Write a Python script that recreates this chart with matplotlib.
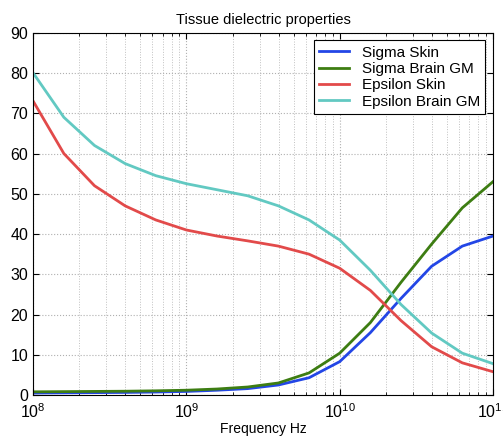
import matplotlib.pyplot as plt
import numpy as np

plt.rcParams['font.family'] = ['Liberation Sans', 'DejaVu Sans']
plt.rcParams['mathtext.fontset'] = 'custom'
plt.rcParams['mathtext.rm'] = 'Liberation Sans'

# frequencies, 5 points per decade from 1e8 to 1e11
freq = [1e8, 1.585e8, 2.512e8, 3.981e8, 6.31e8,
        1e9, 1.585e9, 2.512e9, 3.981e9, 6.31e9,
        1e10, 1.585e10, 2.512e10, 3.981e10, 6.31e10, 1e11]

sigma_skin = [0.5, 0.55, 0.6, 0.65, 0.75, 0.9, 1.2, 1.6, 2.5, 4.3,
              8.3, 15.5, 24.0, 32.0, 37.0, 39.5]
sigma_brain = [0.8, 0.85, 0.9, 0.95, 1.05, 1.2, 1.5, 2.0, 3.0, 5.5,
               10.4, 18.0, 28.0, 37.5, 46.5, 53.0]
eps_skin = [73.0, 60.0, 52.0, 47.0, 43.5, 41.0, 39.5, 38.3, 37.0, 35.0,
            31.5, 26.0, 18.5, 12.0, 8.0, 5.8]
eps_brain = [80.0, 69.0, 62.0, 57.5, 54.5, 52.5, 51.0, 49.5, 47.0, 43.5,
             38.5, 31.0, 22.5, 15.4, 10.4, 7.8]

series = [
    ("Sigma Skin", sigma_skin, "#2346e6"),
    ("Sigma Brain GM", sigma_brain, "#3d7d12"),
    ("Epsilon Skin", eps_skin, "#e24a4a"),
    ("Epsilon Brain GM", eps_brain, "#62c9c2"),
]

fig = plt.figure(figsize=(5.03, 4.37), dpi=100)
ax = fig.add_axes([0.066, 0.096, 0.914, 0.829])

for label, vals, col in series:
    ax.plot(freq, vals, color=col, linewidth=2, label=label)

ax.set_xscale('log')
ax.set_xlim(1e8, 1e11)
ax.set_ylim(0, 90)
ax.set_yticks(np.arange(0, 91, 10))

ax.grid(True, which='major', linestyle=':', color='#b0b0b0', linewidth=0.8)
ax.grid(True, which='minor', axis='x', linestyle=':', color='#c0c0c0', linewidth=0.7)

ax.tick_params(which='both', direction='in', top=True, right=True, labelsize=11.5)
ax.tick_params(which='major', length=4)
ax.tick_params(which='minor', length=2)
ax.tick_params(axis='x', pad=5)

ax.set_title("Tissue dielectric properties", fontsize=10.5, pad=6)
ax.set_xlabel("Frequency Hz", fontsize=10, labelpad=1)

leg = ax.legend(loc='upper right', fontsize=11, fancybox=False, edgecolor='black',
                framealpha=1, borderaxespad=0.5, handlelength=2.0,
                labelspacing=0.15, borderpad=0.35)
leg.get_frame().set_linewidth(0.8)

fig.savefig("out.png", dpi=100)
